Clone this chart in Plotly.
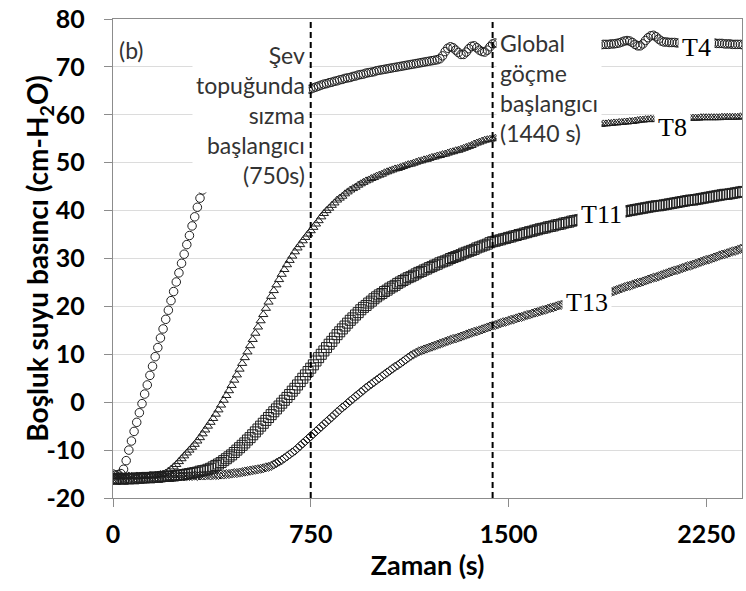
import plotly.graph_objects as go

# ---------------- data ----------------
time_s = list(range(0, 2400, 10))  # sampling instants, 10 s apart

T4 = [
    -15.0, -15.2, -15.1, -14.9, -14.0, -12.2, -10.0, -8.1, -6.1, -4.2,
    -2.2, -0.3, 1.7, 3.6, 5.6, 7.5, 9.5, 11.4, 13.4, 15.3,
    17.3, 19.2, 21.2, 23.1, 25.1, 27.0, 29.0, 30.9, 32.9, 34.8,
    36.8, 38.7, 40.7, 42.6, 44.3, 45.9, 47.3, 48.6, 49.8, 50.9,
    51.9, 52.8, 53.6, 54.4, 55.1, 55.8, 56.4, 57.0, 57.6, 58.1,
    58.6, 59.1, 59.5, 59.9, 60.3, 60.7, 61.0, 61.4, 61.7, 62.0,
    62.3, 62.6, 62.9, 63.2, 63.4, 63.7, 63.9, 64.1, 64.3, 64.5,
    64.7, 64.9, 65.0, 65.2, 65.3, 65.4, 65.6, 65.8, 66.0, 66.2,
    66.4, 66.5, 66.7, 66.8, 67.0, 67.1, 67.3, 67.4, 67.6, 67.7,
    67.8, 68.0, 68.1, 68.3, 68.4, 68.5, 68.7, 68.8, 68.9, 69.0,
    69.2, 69.3, 69.4, 69.5, 69.6, 69.7, 69.8, 69.9, 70.0, 70.1,
    70.2, 70.3, 70.4, 70.5, 70.6, 70.7, 70.8, 70.9, 71.0, 71.1,
    71.2, 71.3, 71.4, 71.5, 71.7, 72.3, 73.2, 73.9, 74.2, 74.0,
    73.5, 73.0, 72.6, 72.6, 73.1, 73.8, 74.3, 74.4, 74.0, 73.5,
    73.2, 73.1, 73.5, 74.2, 74.8, 75.0, 74.9, 74.8, 74.8, 74.7,
    74.7, 74.7, 74.6, 74.6, 74.6, 74.6, 74.6, 74.6, 74.6, 74.6,
    74.6, 74.6, 74.6, 74.6, 74.6, 74.6, 74.6, 74.6, 74.6, 74.6,
    74.6, 74.6, 74.6, 74.6, 74.6, 74.6, 74.6, 74.6, 74.6, 74.6,
    74.6, 74.6, 74.6, 74.6, 74.6, 74.6, 74.7, 74.7, 74.7, 74.8,
    74.8, 74.9, 75.0, 75.2, 75.4, 75.5, 75.4, 75.1, 74.7, 74.4,
    74.4, 74.8, 75.5, 76.1, 76.5, 76.6, 76.3, 75.8, 75.4, 75.2,
    75.2, 75.1, 75.1, 75.1, 75.0, 75.0, 75.0, 75.0, 75.0, 75.0,
    75.0, 75.0, 75.0, 75.0, 75.0, 75.0, 75.0, 75.0, 75.0, 74.9,
    74.9, 74.9, 74.8, 74.8, 74.8, 74.7, 74.7, 74.7, 74.7, 74.6,
]

T8 = [
    -15.5, -15.6, -15.4, -15.5, -15.6, -15.5, -15.4, -15.5, -15.6, -15.4,
    -15.5, -15.4, -15.5, -15.4, -15.3, -15.4, -15.3, -15.2, -15.1, -15.0,
    -14.8, -14.4, -14.0, -13.5, -13.0, -12.4, -11.8, -11.2, -10.6, -10.0,
    -9.4, -8.8, -8.1, -7.4, -6.6, -5.8, -5.0, -4.2, -3.4, -2.5,
    -1.6, -0.6, 0.4, 1.4, 2.4, 3.5, 4.6, 5.7, 6.9, 8.1,
    9.3, 10.5, 11.8, 13.1, 14.4, 15.7, 17.0, 18.3, 19.6, 20.9,
    22.1, 23.3, 24.5, 25.6, 26.7, 27.7, 28.7, 29.6, 30.5, 31.4,
    32.2, 32.9, 33.7, 34.4, 35.1, 35.8, 36.5, 37.2, 37.9, 38.7,
    39.4, 40.0, 40.5, 41.1, 41.6, 42.2, 42.6, 43.0, 43.5, 43.9,
    44.3, 44.6, 44.9, 45.3, 45.6, 45.9, 46.2, 46.4, 46.7, 46.9,
    47.2, 47.4, 47.6, 47.9, 48.1, 48.3, 48.5, 48.7, 48.8, 49.0,
    49.2, 49.4, 49.6, 49.7, 49.9, 50.1, 50.3, 50.4, 50.6, 50.7,
    50.9, 51.1, 51.2, 51.4, 51.5, 51.7, 51.8, 52.0, 52.2, 52.3,
    52.5, 52.6, 52.8, 53.0, 53.2, 53.4, 53.6, 53.9, 54.1, 54.3,
    54.5, 54.7, 54.8, 54.9, 55.0, 55.1, 55.2, 55.3, 55.3, 55.4,
    55.5, 55.6, 55.7, 55.7, 55.8, 55.9, 56.0, 56.1, 56.1, 56.2,
    56.3, 56.4, 56.4, 56.5, 56.6, 56.7, 56.7, 56.8, 56.9, 57.0,
    57.0, 57.1, 57.2, 57.3, 57.3, 57.4, 57.5, 57.6, 57.6, 57.7,
    57.8, 57.8, 57.9, 57.9, 58.0, 58.0, 58.1, 58.1, 58.2, 58.2,
    58.3, 58.3, 58.4, 58.4, 58.5, 58.5, 58.6, 58.6, 58.7, 58.8,
    58.9, 58.9, 59.0, 59.0, 59.1, 59.0, 59.0, 59.1, 59.1, 59.1,
    59.1, 59.2, 59.2, 59.2, 59.2, 59.2, 59.3, 59.3, 59.3, 59.3,
    59.3, 59.3, 59.3, 59.4, 59.4, 59.4, 59.4, 59.4, 59.4, 59.4,
    59.4, 59.5, 59.5, 59.5, 59.5, 59.5, 59.5, 59.5, 59.6, 59.6,
]

T11 = [
    -16.0, -16.1, -15.9, -16.0, -16.1, -15.9, -16.0, -15.9, -16.0, -15.8,
    -15.9, -15.8, -15.8, -15.7, -15.8, -15.7, -15.6, -15.7, -15.6, -15.5,
    -15.5, -15.5, -15.4, -15.4, -15.3, -15.2, -15.2, -15.1, -15.0, -14.9,
    -14.8, -14.7, -14.6, -14.4, -14.3, -14.2, -14.0, -13.8, -13.5, -13.2,
    -12.9, -12.6, -12.2, -11.8, -11.4, -11.0, -10.5, -10.0, -9.5, -9.0,
    -8.5, -7.9, -7.4, -6.8, -6.2, -5.6, -5.0, -4.4, -3.8, -3.2,
    -2.6, -2.0, -1.4, -0.8, -0.2, 0.4, 1.0, 1.6, 2.3, 2.9,
    3.6, 4.3, 5.0, 5.7, 6.4, 7.1, 7.8, 8.6, 9.3, 10.0,
    10.7, 11.4, 12.1, 12.7, 13.4, 14.1, 14.7, 15.3, 15.9, 16.5,
    17.1, 17.6, 18.2, 18.7, 19.3, 19.8, 20.2, 20.7, 21.1, 21.6,
    22.0, 22.4, 22.7, 23.1, 23.4, 23.8, 24.1, 24.4, 24.8, 25.1,
    25.4, 25.7, 26.0, 26.2, 26.5, 26.8, 27.1, 27.3, 27.6, 27.8,
    28.1, 28.3, 28.6, 28.8, 29.1, 29.3, 29.5, 29.7, 30.0, 30.2,
    30.4, 30.6, 30.8, 31.1, 31.3, 31.5, 31.7, 31.9, 32.2, 32.4,
    32.6, 32.8, 33.0, 33.3, 33.5, 33.6, 33.8, 33.9, 34.1, 34.2,
    34.4, 34.5, 34.7, 34.8, 35.0, 35.1, 35.3, 35.4, 35.6, 35.7,
    35.9, 36.0, 36.2, 36.3, 36.4, 36.6, 36.7, 36.8, 37.0, 37.1,
    37.2, 37.4, 37.5, 37.6, 37.8, 37.9, 38.0, 38.1, 38.2, 38.3,
    38.4, 38.5, 38.6, 38.7, 38.8, 38.9, 39.0, 39.1, 39.2, 39.3,
    39.4, 39.5, 39.6, 39.7, 39.8, 39.9, 40.0, 40.1, 40.2, 40.3,
    40.4, 40.5, 40.6, 40.7, 40.8, 40.9, 41.0, 41.0, 41.1, 41.2,
    41.3, 41.4, 41.5, 41.6, 41.7, 41.8, 41.9, 42.0, 42.1, 42.2,
    42.2, 42.3, 42.4, 42.5, 42.6, 42.7, 42.8, 42.9, 43.0, 43.1,
    43.2, 43.3, 43.4, 43.4, 43.5, 43.6, 43.7, 43.8, 43.9, 44.0,
]

T13 = [
    -16.2, -16.1, -16.2, -16.0, -16.1, -16.0, -16.1, -15.9, -16.0, -15.9,
    -15.9, -15.8, -15.9, -15.8, -15.8, -15.7, -15.8, -15.7, -15.7, -15.6,
    -15.6, -15.6, -15.5, -15.6, -15.5, -15.5, -15.4, -15.5, -15.4, -15.4,
    -15.4, -15.3, -15.4, -15.3, -15.3, -15.3, -15.2, -15.3, -15.2, -15.2,
    -15.2, -15.1, -15.1, -15.0, -15.0, -14.9, -14.8, -14.8, -14.7, -14.6,
    -14.5, -14.4, -14.3, -14.2, -14.1, -14.0, -13.9, -13.8, -13.6, -13.5,
    -13.3, -13.0, -12.7, -12.4, -12.1, -11.7, -11.3, -10.9, -10.5, -10.1,
    -9.6, -9.1, -8.6, -8.1, -7.6, -7.1, -6.6, -6.1, -5.6, -5.1,
    -4.6, -4.1, -3.6, -3.1, -2.6, -2.1, -1.6, -1.1, -0.7, -0.2,
    0.3, 0.7, 1.2, 1.6, 2.1, 2.5, 3.0, 3.4, 3.8, 4.2,
    4.6, 5.0, 5.4, 5.8, 6.2, 6.6, 7.0, 7.4, 7.7, 8.1,
    8.5, 8.9, 9.3, 9.7, 10.0, 10.3, 10.6, 10.8, 11.0, 11.2,
    11.4, 11.6, 11.8, 12.0, 12.2, 12.4, 12.6, 12.8, 13.0, 13.2,
    13.3, 13.5, 13.7, 13.9, 14.1, 14.3, 14.5, 14.7, 14.8, 15.0,
    15.2, 15.4, 15.6, 15.8, 16.0, 16.1, 16.3, 16.5, 16.7, 16.8,
    17.0, 17.2, 17.3, 17.5, 17.7, 17.8, 18.0, 18.2, 18.3, 18.5,
    18.7, 18.8, 19.0, 19.2, 19.3, 19.5, 19.7, 19.8, 20.0, 20.2,
    20.3, 20.5, 20.6, 20.8, 20.9, 21.1, 21.2, 21.4, 21.5, 21.7,
    21.8, 21.9, 22.1, 22.2, 22.4, 22.5, 22.6, 22.8, 22.9, 23.0,
    23.2, 23.4, 23.6, 23.8, 24.0, 24.2, 24.3, 24.5, 24.7, 24.9,
    25.0, 25.2, 25.4, 25.6, 25.8, 26.0, 26.1, 26.3, 26.5, 26.7,
    26.9, 27.1, 27.3, 27.5, 27.6, 27.8, 28.0, 28.2, 28.4, 28.5,
    28.7, 28.9, 29.1, 29.3, 29.5, 29.7, 29.8, 30.0, 30.2, 30.4,
    30.6, 30.8, 30.9, 31.1, 31.3, 31.5, 31.6, 31.8, 32.0, 32.2,
]

series_names = ["T4", "T8", "T11", "T13"]
event_times = [750, 1440]
x_ticks = [0, 750, 1500, 2250]
y_ticks = [-20, -10, 0, 10, 20, 30, 40, 50, 60, 70, 80]

# ---------------- styling ----------------
SANS = "Lato, 'Open Sans', sans-serif"
SERIF = "'Liberation Serif', 'Times New Roman', serif"
INK = "#1e1e1e"
symbols = ["circle-open", "triangle-up-open", "square-open", "diamond-open"]
sizes = [8.5, 8, 10, 7]

fig = go.Figure()
for name, vals, sym, sz in zip(series_names, [T4, T8, T11, T13], symbols, sizes):
    fig.add_trace(go.Scatter(
        x=time_s, y=vals, mode="markers", name=name,
        marker=dict(symbol=sym, size=sz, color=INK, line=dict(width=1, color=INK)),
        showlegend=False,
    ))

for t in event_times:
    fig.add_shape(type="line", xref="x", yref="y", x0=t, x1=t, y0=-20, y1=80,
                  line=dict(color="black", width=2, dash="6px,4px"), layer="above")

ann_font = dict(family=SANS, size=23, color="#333333")
fig.add_annotation(x=event_times[0], y=60, xref="x", yref="y", xanchor="right", yanchor="middle",
                   xshift=-2, align="right", showarrow=False, bgcolor="white", borderpad=3,
                   text="Şev<br>topuğunda<br>sızma<br>başlangıcı<br>(750s)", font=ann_font)
fig.add_annotation(x=event_times[1], y=65.5, xref="x", yref="y", xanchor="left", yanchor="middle",
                   xshift=3, align="left", showarrow=False, bgcolor="white", borderpad=3,
                   text="Global<br>göçme<br>başlangıcı<br>(1440 s)", font=ann_font)
fig.add_annotation(x=15, y=73.5, xref="x", yref="y", xanchor="left", yanchor="middle",
                   showarrow=False, text="(b)", font=ann_font)

label_pos = {"T4": (2212, 74.0), "T8": (2123, 57.3), "T11": (1854, 39.2), "T13": (1797, 20.8)}
for name in series_names:
    lx, ly = label_pos[name]
    fig.add_annotation(x=lx, y=ly, xref="x", yref="y", showarrow=False, text=name,
                       bgcolor="white", borderpad=3,
                       font=dict(family=SERIF, size=26, color="black"))

# y-axis title placed as a rotated annotation (closer to tick labels as in the reference)
fig.add_annotation(x=-0.119, y=0.5, xref="paper", yref="paper", xanchor="center", yanchor="middle",
                   textangle=-90, showarrow=False,
                   text="Boşluk suyu basıncı (cm-H<sub>2</sub>O)",
                   font=dict(family=SANS, size=28, color="black", weight="bold"))

axis_common = dict(showline=True, linecolor="#8c8c8c", linewidth=1.3, mirror=True,
                   ticks="outside", ticklen=8, tickcolor="#8c8c8c", tickwidth=1,
                   zeroline=False,
                   tickfont=dict(family=SANS, size=25, color="black", weight="bold"))

fig.update_xaxes(range=[0, 2386], tickvals=x_ticks, ticktext=[str(v) for v in x_ticks],
                 showgrid=False, ticklabelstandoff=6,
                 title=dict(text="Zaman (s)", font=dict(family=SANS, size=27, color="black", weight="bold"),
                            standoff=3),
                 **axis_common)
fig.update_yaxes(range=[-20, 80], tickvals=y_ticks, ticktext=[str(v) for v in y_ticks],
                 showgrid=True, gridcolor="#dcdcdc", gridwidth=1, ticklabelstandoff=14,
                 **axis_common)

fig.update_layout(width=746, height=591, margin=dict(l=113, r=3, t=17, b=93),
                  paper_bgcolor="white", plot_bgcolor="white")

fig.write_html("out.html")
